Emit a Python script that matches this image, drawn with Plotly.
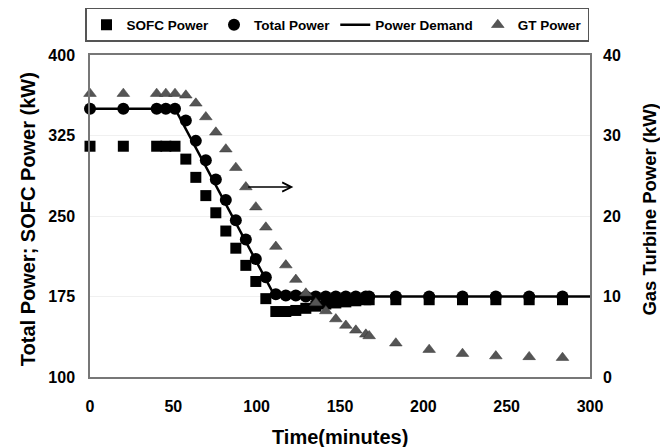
import plotly.graph_objects as go

# ---- data ----
time_min = [0, 20, 40, 45.5, 51, 57.5, 63.5, 69.5, 75.5, 81.5, 87.5, 93.5, 99.5, 105.5,
            111.5, 117.5, 123.5, 129.5, 135.5, 141.5, 147.5, 153.5, 159.5, 165.5, 167.5,
            183.5, 203.5, 223.5, 243.5, 263.5, 283.5]
sofc_power = [315, 315, 315, 315, 315, 303, 286, 269, 253, 236, 220, 204, 189, 173,
              161, 161, 162, 164, 166, 168, 169, 170, 171, 172, 172,
              172, 172, 172, 172, 172, 172]
total_power = [350, 350, 350, 350, 350, 339, 320, 302, 284, 265, 246, 228, 210, 193,
               177, 176, 176, 175, 175, 175, 175, 175, 175, 175, 175,
               175, 175, 175, 175, 175, 175]
gt_power = [35.2, 35.2, 35.2, 35.2, 35.2, 35.0, 34.0, 32.3, 30.4, 28.3, 26.0, 23.6, 21.1, 18.6,
            16.2, 13.9, 12.1, 10.4, 9.2, 8.2, 7.2, 6.4, 5.8, 5.3, 5.1,
            4.2, 3.4, 2.9, 2.6, 2.5, 2.4]
demand_time = [0, 51, 111, 303]
demand_power = [350, 350, 175, 175]

x_ticks = [0, 50, 100, 150, 200, 250, 300]
y_left_ticks = [100, 175, 250, 325, 400]
y_right_ticks = [0, 10, 20, 30, 40]

FONT = "Arial, Liberation Sans, sans-serif"

fig = go.Figure()
fig.add_trace(go.Scatter(x=time_min, y=sofc_power, mode="markers", name="SOFC Power",
                         marker=dict(symbol="square", size=11, color="black"),
                         cliponaxis=False))
fig.add_trace(go.Scatter(x=time_min, y=total_power, mode="markers", name="Total Power",
                         marker=dict(symbol="circle", size=12, color="black"),
                         cliponaxis=False))
fig.add_trace(go.Scatter(x=demand_time, y=demand_power, mode="lines", name="Power Demand",
                         line=dict(color="black", width=2.5)))
fig.add_trace(go.Scatter(x=time_min, y=gt_power, mode="markers", name="GT Power", yaxis="y2",
                         marker=dict(symbol="triangle-up", size=11, color="#555555",
                                     line=dict(color="#333333", width=0.5)),
                         cliponaxis=False))

fig.add_annotation(x=122, y=277, xref="x", yref="y", ax=94, ay=277, axref="x", ayref="y",
                   showarrow=True, arrowhead=5, arrowsize=1.2, arrowwidth=1.5,
                   arrowcolor="black", text="")

fig.add_annotation(text="Time(minutes)", x=0.5, y=-0.186, xref="paper", yref="paper",
                   xanchor="center", yanchor="middle", showarrow=False,
                   font=dict(family=FONT, size=20, color="black", weight="bold"))
fig.add_annotation(text="Total Power; SOFC Power (kW)", x=-0.124, y=0.49, xref="paper",
                   yref="paper", textangle=-90, xanchor="center", yanchor="middle",
                   showarrow=False,
                   font=dict(family=FONT, size=20, color="black", weight="bold"))
fig.add_annotation(text="Gas Turbine Power (kW)", x=1.12, y=0.52, xref="paper",
                   yref="paper", textangle=-90, xanchor="center", yanchor="middle",
                   showarrow=False,
                   font=dict(family=FONT, size=18.5, color="black", weight="bold"))

tickfont = dict(family=FONT, size=16, color="black", weight="bold")
fig.update_layout(
    width=660, height=439,
    margin=dict(l=82, r=78, t=47, b=70, autoexpand=False),
    paper_bgcolor="white", plot_bgcolor="white",
    showlegend=True,
    legend=dict(orientation="h", x=-0.01, y=1.146, xanchor="left", yanchor="top",
                bordercolor="#555555", borderwidth=1.5,
                font=dict(family=FONT, size=13.5, color="black", weight="bold"),
                itemwidth=30),
    xaxis=dict(range=[0, 300], tickvals=x_ticks, showgrid=False, zeroline=False,
               showline=True, linecolor="#777777", linewidth=1.5, mirror=True,
               ticks="", tickfont=tickfont, ticklabelstandoff=14, automargin=False),
    yaxis=dict(range=[100, 400], tickvals=y_left_ticks, showgrid=True, gridcolor="#f0f0f0",
               zeroline=False, showline=True, linecolor="#777777", linewidth=1.5,
               mirror=True, ticks="", tickfont=tickfont, ticklabelstandoff=10,
               automargin=False),
    yaxis2=dict(range=[0, 40], tickvals=y_right_ticks, overlaying="y", side="right",
                showgrid=False, zeroline=False, showline=False, ticks="",
                tickfont=tickfont, ticklabelstandoff=12, automargin=False),
)

fig.write_html("out.html")
